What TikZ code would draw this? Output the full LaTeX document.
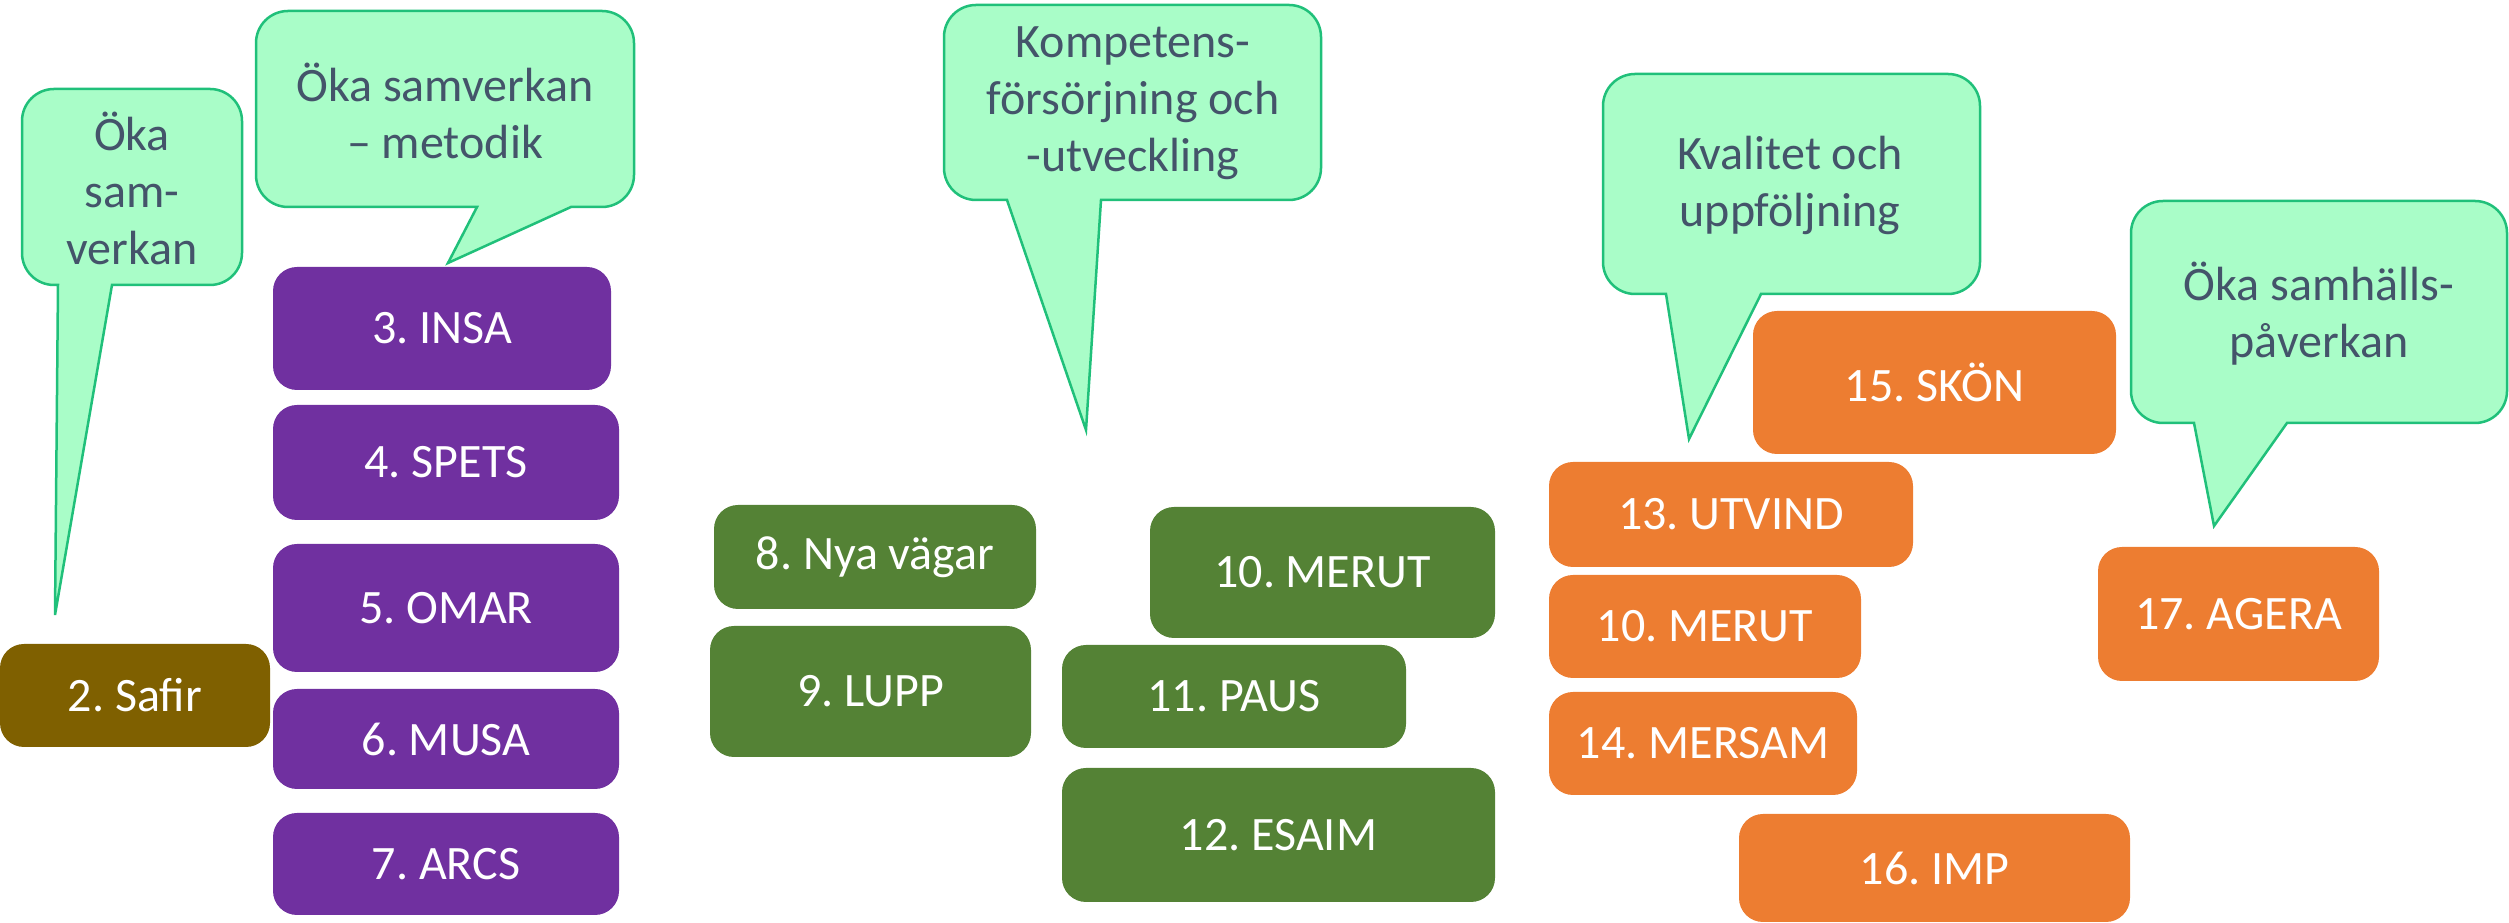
\documentclass[tikz,border=0pt]{standalone}
\usepackage{fontspec}
\setmainfont{Carlito}
\frenchspacing
\definecolor{bubfill}{HTML}{A9FDC8}
\definecolor{bubline}{HTML}{20C07A}
\definecolor{bubtext}{HTML}{44546A}
\definecolor{cpurple}{HTML}{7030A0}
\definecolor{cgreen}{HTML}{548235}
\definecolor{corange}{HTML}{ED7D31}
\definecolor{cbrown}{HTML}{7F6000}
% #1 L, #2 R, #3 T, #4 B, #5 tail left, #6 tail right, #7 tip x, #8 tip y
\newcommand\mybubble[8]{%
  \draw[bubshape] (#5,#4) -- (#7,#8) -- (#6,#4) -- ({#2-32},#4)
    arc[start angle=270,end angle=360,radius=32] -- (#2,{#3-32})
    arc[start angle=0,end angle=90,radius=32] -- ({#1+32},#3)
    arc[start angle=90,end angle=180,radius=32] -- (#1,{#4+32})
    arc[start angle=180,end angle=270,radius=32] -- cycle;}
\begin{document}
\begin{tikzpicture}[x=1pt,y=1pt,
  bubshape/.style={fill=bubfill,draw=bubline,line width=2.5pt,line join=miter},
  bubtxt/.style={text=bubtext,align=center,font=\fontsize{48}{57}\selectfont\frenchspacing,inner sep=0pt},
  box/.style={rounded corners=24pt,minimum width=#1,inner sep=0pt,text=white,font=\fontsize{48}{57}\selectfont\frenchspacing},
  purplebox/.style={box=#1,fill=cpurple},
  greenbox/.style={box=#1,fill=cgreen},
  orangebox/.style={box=#1,fill=corange},
  brownbox/.style={box=#1,fill=cbrown}]
\useasboundingbox (0,0) rectangle (2509,923);

% speech bubbles
\mybubble{22}{242}{834}{638}{58}{112}{55}{308}
\node[bubtxt] (b1) at (132,735) {Öka\\sam-\\verkan};

\mybubble{256}{634}{912}{716}{477}{571}{448}{660}
\node[bubtxt] (b2) at (445,812) {Öka samverkan\\– metodik};

\mybubble{944}{1321}{918}{723}{1007}{1101}{1086}{493}
\node[bubtxt] (b3) at (1133,820) {Kompetens-\\försörjning och\\-utveckling};

\mybubble{1603}{1980}{849}{629}{1666}{1761}{1689}{484}
\node[bubtxt] (b4) at (1790,738) {Kvalitet och\\uppföljning};

\mybubble{2131}{2507}{722}{500}{2194}{2287}{2214}{397}
\node[bubtxt] (b5) at (2319,609) {Öka samhälls-\\påverkan};

% boxes
\node[brownbox=270pt,minimum height=103pt] (safir) at (135,227.5) {2. Safir};
\node[purplebox=338pt,minimum height=123pt] (insa) at (442,594.5) {3. INSA};
\node[purplebox=346pt,minimum height=115pt] (spets) at (446,460.5) {4. SPETS};
\node[purplebox=346pt,minimum height=128pt] (omar) at (446,315) {5. OMAR};
\node[purplebox=346pt,minimum height=100pt] (musa) at (446,184) {6. MUSA};
\node[purplebox=346pt,minimum height=102pt] (arcs) at (446,59) {7. ARCS};

\node[greenbox=322pt,minimum height=104pt] (nya) at (875,366) {8. Nya vägar};
\node[greenbox=321pt,minimum height=131pt] (lupp) at (870.5,231.5) {9. LUPP};
\node[greenbox=345pt,minimum height=131pt] (merutg) at (1322.5,350.5) {10. MERUT};
\node[greenbox=344pt,minimum height=103pt] (paus) at (1234,226.5) {11. PAUS};
\node[greenbox=433pt,minimum height=134pt] (esaim) at (1278.5,88) {12. ESAIM};

\node[orangebox=363pt,minimum height=143pt] (skon) at (1934.5,540.5) {15. SKÖN};
\node[orangebox=364pt,minimum height=105pt] (utvind) at (1731,408.5) {13. UTVIND};
\node[orangebox=312pt,minimum height=103pt] (meruto) at (1705,296.5) {10. MERUT};
\node[orangebox=308pt,minimum height=103pt] (mersam) at (1703,179.5) {14. MERSAM};
\node[orangebox=391pt,minimum height=108pt] (imp) at (1934.5,55) {16. IMP};
\node[orangebox=281pt,minimum height=134pt] (agera) at (2238.5,309) {17. AGERA};
\end{tikzpicture}
\end{document}
